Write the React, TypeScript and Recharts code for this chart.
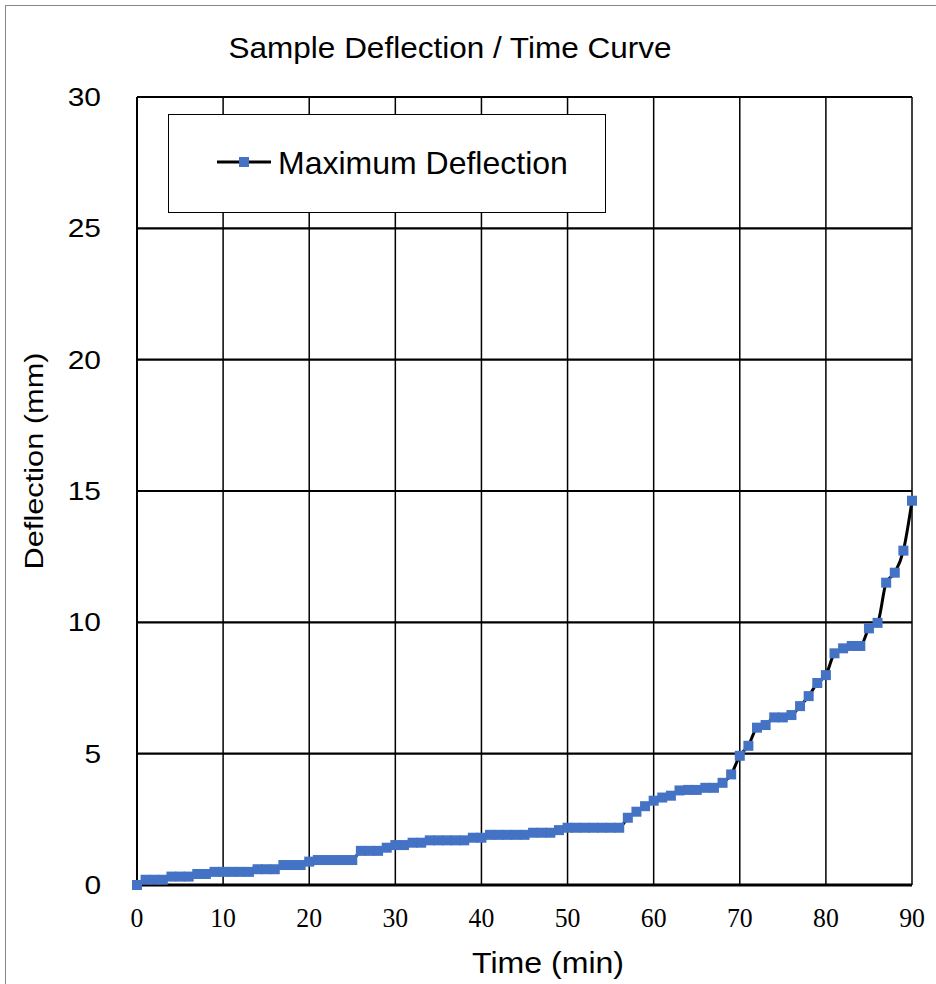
import React from "react";
import { LineChart, Line, XAxis, YAxis, CartesianGrid, Legend } from "recharts";

const times = [
  0, 1, 2, 3, 4, 5, 6, 7, 8, 9, 10, 11, 12, 13, 14, 15, 16, 17, 18, 19, 20,
  21, 22, 23, 24, 25, 26, 27, 28, 29, 30, 31, 32, 33, 34, 35, 36, 37, 38, 39, 40,
  41, 42, 43, 44, 45, 46, 47, 48, 49, 50, 51, 52, 53, 54, 55, 56, 57, 58, 59, 60,
  61, 62, 63, 64, 65, 66, 67, 68, 69, 70, 71, 72, 73, 74, 75, 76, 77, 78, 79, 80,
  81, 82, 83, 84, 85, 86, 87, 88, 89, 90,
];

const deflection = [
  0, 0.2, 0.2, 0.2, 0.32, 0.32, 0.32, 0.42, 0.42, 0.5, 0.5, 0.5, 0.5, 0.5, 0.6, 0.6, 0.6, 0.76, 0.76, 0.76, 0.89,
  0.95, 0.95, 0.95, 0.95, 0.95, 1.3, 1.3, 1.3, 1.42, 1.52, 1.52, 1.61, 1.61, 1.7, 1.7, 1.7, 1.7, 1.7, 1.8, 1.8,
  1.91, 1.91, 1.91, 1.91, 1.91, 1.99, 1.99, 1.99, 2.09, 2.18, 2.18, 2.18, 2.18, 2.18, 2.18, 2.18, 2.56, 2.79, 3.0, 3.21,
  3.33, 3.4, 3.6, 3.62, 3.62, 3.7, 3.7, 3.89, 4.21, 4.92, 5.3, 5.99, 6.09, 6.38, 6.38, 6.47, 6.81, 7.19, 7.69, 7.99,
  8.82, 9.01, 9.1, 9.1, 9.77, 9.98, 11.51, 11.89, 12.73, 14.63,
];

const xTicks = [0, 10, 20, 30, 40, 50, 60, 70, 80, 90];
const yTicks = [0, 5, 10, 15, 20, 25, 30];

const seriesName = "Maximum Deflection";
const chartTitle = "Sample Deflection / Time Curve";
const xTitle = "Time (min)";
const yTitle = "Deflection (mm)";

const data = times.map((t, i) => ({ t, d: deflection[i] }));

const MARKER = "#4472C4";
const SANS = "'Liberation Sans', Arial, sans-serif";
const SERIF = "'Liberation Serif', 'Times New Roman', serif";

const YTick = (props: any) => {
  const { x, y, payload } = props;
  return (
    <text
      transform={`translate(${x},${y + 9}) scale(1.15,1)`}
      textAnchor="end"
      fontFamily={SANS}
      fontSize={26}
      fill="#000"
    >
      {payload.value}
    </text>
  );
};

const XTick = (props: any) => {
  const { x, y, payload } = props;
  return (
    <text
      transform={`translate(${x},${y + 42}) scale(0.92,1)`}
      textAnchor="middle"
      fontFamily={SERIF}
      fontSize={28}
      fill="#000"
    >
      {payload.value}
    </text>
  );
};

const Marker = (props: any) => {
  const { cx, cy, index } = props;
  if (cx == null || cy == null) return <g key={index} />;
  return <rect key={index} x={cx - 5} y={cy - 5} width={10} height={10} fill={MARKER} />;
};

const LegendBox = (props: any) => {
  const p = props.payload && props.payload[0];
  const label = p ? p.value : seriesName;
  return (
    <div
      style={{
        width: 438,
        height: 99,
        border: "1.5px solid #000",
        background: "#fff",
        boxSizing: "border-box",
      }}
    >
      <svg width={435} height={96} style={{ display: "block" }}>
        <line x1={48} y1={47} x2={102} y2={47} stroke="#000" strokeWidth={3} />
        <rect x={70} y={42} width={10} height={10} fill={MARKER} />
        <text x={109} y={59} fontFamily={SANS} fontSize={32} fill="#000">
          {label}
        </text>
      </svg>
    </div>
  );
};

export default function App() {
  return (
    <div
      style={{
        position: "absolute",
        left: 0,
        top: 0,
        width: 936,
        height: 984,
        background: "#fff",
      }}
    >
      <div
        style={{
          position: "absolute",
          left: 5,
          top: 5,
          width: 940,
          height: 990,
          border: "1px solid #888",
          boxSizing: "border-box",
        }}
      />
      <div style={{ position: "absolute", left: 0, top: 0 }}>
        <LineChart
          width={936}
          height={984}
          data={data}
          margin={{ top: 97, right: 24, bottom: 0, left: 0 }}
        >
          <CartesianGrid horizontal={false} stroke="#000" strokeWidth={1.5} />
          <CartesianGrid vertical={false} stroke="#000" strokeWidth={2.2} />
          <XAxis
            dataKey="t"
            type="number"
            domain={[0, 90]}
            ticks={xTicks}
            interval={0}
            height={99}
            tickLine={false}
            tickSize={0}
            tickMargin={0}
            axisLine={{ stroke: "#000", strokeWidth: 3 }}
            tick={<XTick />}
          />
          <YAxis
            type="number"
            domain={[0, 30]}
            ticks={yTicks}
            interval={0}
            width={137}
            tickLine={false}
            tickSize={0}
            tickMargin={36}
            axisLine={{ stroke: "#000", strokeWidth: 2 }}
            tick={<YTick />}
          />
          <Legend
            layout="horizontal"
            verticalAlign="middle"
            align="center"
            wrapperStyle={{ left: 168, top: 114, width: 438, height: 99 }}
            content={<LegendBox />}
          />
          <Line
            dataKey="d"
            name={seriesName}
            type="monotone"
            stroke="#000"
            strokeWidth={3}
            dot={<Marker />}
            activeDot={false}
            isAnimationActive={false}
          />
        </LineChart>
      </div>
      <svg
        width={936}
        height={984}
        style={{ position: "absolute", left: 0, top: 0, pointerEvents: "none" }}
      >
        <text
          transform="translate(450,58) scale(1.05,1)"
          textAnchor="middle"
          fontFamily={SANS}
          fontSize={30}
          fill="#000"
        >
          {chartTitle}
        </text>
        <text
          transform="translate(548,973) scale(1.07,1)"
          textAnchor="middle"
          fontFamily={SANS}
          fontSize={30}
          fill="#000"
        >
          {xTitle}
        </text>
        <text
          transform="translate(43,461) rotate(-90) scale(1.23,1)"
          textAnchor="middle"
          fontFamily={SANS}
          fontSize={25}
          fill="#000"
        >
          {yTitle}
        </text>
      </svg>
    </div>
  );
}
